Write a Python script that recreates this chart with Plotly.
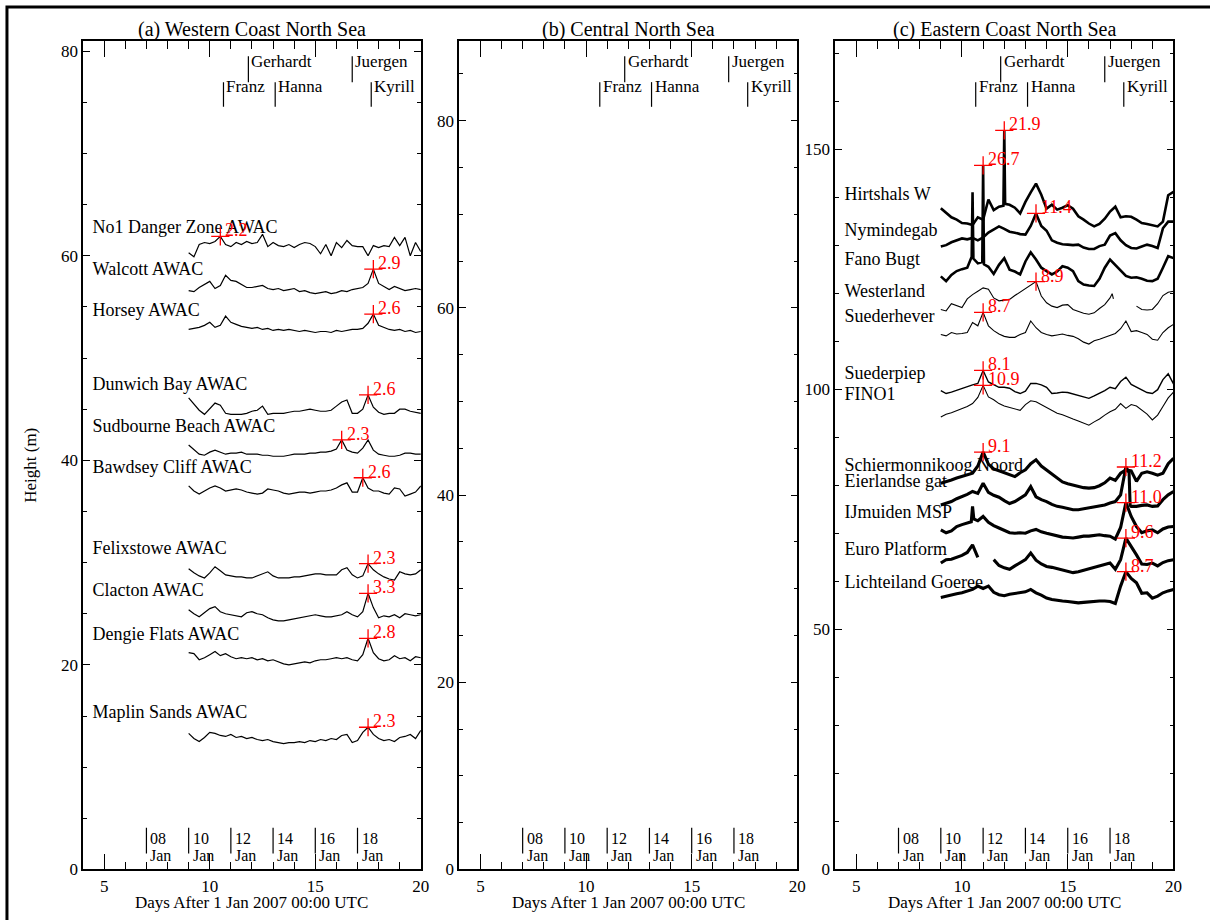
import plotly.graph_objects as go

SERIF = "Liberation Serif"

# Sample times (days after 1 Jan 2007 00:00 UTC)
days = [round(9.0 + 0.25 * i, 2) for i in range(45)]

# ---------------- (a) Western Coast North Sea ----------------
west_names = ["No1 Danger Zone AWAC", "Walcott AWAC", "Horsey AWAC", "Dunwich Bay AWAC",
              "Sudbourne Beach AWAC", "Bawdsey Cliff AWAC", "Felixstowe AWAC",
              "Clacton AWAC", "Dengie Flats AWAC", "Maplin Sands AWAC"]

no1 = [60.3, 59.9, 61.1, 61.3, 61.2, 61.4, 61.9, 61.1, 60.9, 61.3, 61.1, 61.4, 61.2, 61.3, 62.1,
       60.9, 61.3, 61.0, 60.9, 61.1, 60.8, 61.1, 61.3, 61.2, 60.9, 60.2, 61.1, 60.0, 61.3, 60.8,
       61.5, 61.0, 60.9, 60.9, 60.0, 61.0, 60.8, 61.0, 60.9, 61.8, 61.0, 61.8, 60.0, 61.3, 60.4]
walcott = [56.6, 56.5, 56.9, 57.2, 57.5, 56.8, 57.1, 58.1, 57.6, 57.5, 57.2, 56.9, 56.9, 57.0, 57.1,
           56.8, 56.7, 56.8, 56.6, 56.7, 56.8, 56.5, 56.6, 56.4, 56.3, 56.4, 56.5, 56.3, 56.4, 56.6,
           56.5, 56.7, 56.8, 56.9, 57.3, 58.7, 57.3, 57.0, 56.7, 57.0, 56.8, 56.6, 56.7, 56.8, 56.7]
horsey = [52.8, 52.9, 53.0, 53.2, 53.5, 53.0, 53.2, 54.1, 53.5, 53.3, 53.1, 53.0, 52.9, 53.0, 52.8,
          52.9, 52.7, 52.8, 52.7, 52.8, 52.7, 52.6, 52.7, 52.6, 52.5, 52.6, 52.6, 52.5, 52.7, 52.6,
          52.7, 52.8, 52.8, 52.9, 53.4, 54.3, 53.2, 53.0, 52.8, 52.7, 52.8, 52.6, 52.7, 52.5, 52.6]
dunwich = [46.1, 45.5, 44.9, 44.5, 45.1, 45.6, 45.4, 44.6, 44.5, 44.5, 44.5, 44.6, 44.8, 44.9, 45.3,
           44.5, 44.6, 44.6, 44.6, 44.7, 44.8, 44.8, 44.9, 45.0, 44.9, 44.8, 44.8, 44.9, 45.3, 45.7,
           45.9, 44.6, 44.6, 45.0, 46.4, 45.2, 44.7, 44.5, 44.6, 44.6, 45.0, 45.0, 44.8, 44.7, 44.6]
sudbourne = [41.5, 41.0, 40.6, 40.5, 40.8, 41.0, 40.8, 40.6, 40.7, 40.7, 40.8, 40.6, 40.6, 40.6, 40.5,
             40.5, 40.4, 40.4, 40.4, 40.5, 40.6, 40.6, 40.6, 40.7, 40.7, 40.8, 40.8, 40.9, 41.1, 42.0,
             41.0, 40.8, 40.7, 41.2, 42.0, 41.0, 40.6, 40.5, 40.4, 40.4, 40.5, 40.7, 40.7, 40.6, 40.6]
bawdsey = [37.5, 37.0, 36.7, 37.0, 37.3, 37.5, 37.3, 37.0, 37.1, 37.2, 37.1, 36.9, 36.8, 36.7, 36.8,
           37.2, 37.1, 37.0, 36.8, 36.7, 36.8, 36.9, 36.9, 36.8, 36.9, 37.0, 37.0, 37.1, 37.3, 37.6,
           37.8, 36.9, 36.9, 38.3, 37.3, 37.0, 37.0, 36.8, 36.7, 37.3, 37.2, 36.5, 36.7, 36.9, 37.5]
felixstowe = [29.4, 29.0, 28.7, 28.5, 29.0, 29.6, 29.2, 28.8, 28.7, 28.6, 28.6, 28.5, 28.5, 28.7, 28.9,
              29.1, 28.7, 28.5, 28.5, 28.5, 28.6, 28.6, 28.7, 28.8, 28.9, 28.9, 28.8, 28.8, 28.8, 29.3,
              29.5, 28.8, 28.5, 28.7, 29.9, 29.3, 28.9, 28.6, 28.4, 28.3, 29.1, 28.9, 28.8, 28.9, 29.3]
clacton = [25.4, 25.0, 24.7, 25.1, 25.5, 25.7, 25.2, 25.0, 24.9, 24.8, 24.7, 25.1, 25.2, 25.0, 24.9,
           24.6, 24.4, 24.3, 24.3, 24.4, 24.5, 24.6, 24.7, 24.8, 24.9, 24.8, 24.7, 24.7, 24.8, 24.9,
           25.2, 24.9, 24.7, 25.2, 27.0, 25.6, 24.6, 24.8, 24.7, 24.9, 24.6, 25.0, 24.9, 24.8, 24.9]
dengie = [21.2, 21.1, 20.5, 20.7, 21.0, 21.3, 20.9, 21.1, 20.8, 20.6, 20.7, 20.6, 20.7, 20.5, 20.6,
          20.4, 20.5, 20.3, 20.1, 20.0, 20.1, 20.2, 20.3, 20.2, 20.4, 20.5, 20.5, 20.6, 20.7, 20.6,
          20.7, 20.5, 20.4, 21.0, 22.6, 21.2, 20.6, 20.4, 20.5, 20.9, 20.6, 20.7, 20.4, 20.8, 20.7]
maplin = [13.3, 12.8, 12.5, 12.9, 13.4, 13.3, 13.1, 13.0, 13.2, 12.9, 13.0, 12.8, 12.9, 12.7, 12.6,
          12.7, 12.5, 12.4, 12.3, 12.4, 12.4, 12.5, 12.4, 12.6, 12.5, 12.7, 12.6, 12.8, 12.7, 13.1,
          13.2, 12.4, 12.6, 13.4, 13.9, 13.2, 12.8, 12.6, 12.7, 12.5, 12.9, 13.0, 13.2, 12.8, 13.6]

west_series = [no1, walcott, horsey, dunwich, sudbourne, bawdsey, felixstowe, clacton, dengie, maplin]
west_peak_day = [10.5, 17.75, 17.75, 17.5, 16.25, 17.25, 17.5, 17.5, 17.5, 17.5]
west_peak_text = ["2.2", "2.9", "2.6", "2.6", "2.3", "2.6", "2.3", "3.3", "2.8", "2.3"]
west_label_y = [62.7, 58.6, 54.6, 47.3, 43.2, 39.2, 31.3, 27.2, 22.9, 15.2]

# ---------------- (c) Eastern Coast North Sea ----------------
east_names = ["Hirtshals W", "Nymindegab", "Fano Bugt", "Westerland", "Suederhever",
              "Suederpiep", "FINO1", "Schiermonnikoog Noord", "Eierlandse gat",
              "IJmuiden MSP", "Euro Platform", "Lichteiland Goeree"]

hirtshals = [137.7, 136.8, 135.8, 135.3, 134.6, 134.5, 134.2, 135.8, 135.3, 139.5, 137.3, 138.0, 153.9,
             138.4, 137.8, 136.6, 139.0, 141.0, 142.8, 140.5, 137.6, 138.4, 137.4, 137.8, 138.3, 137.6,
             136.0, 135.3, 134.5, 133.9, 134.4, 135.5, 137.0, 138.0, 135.8, 136.0, 135.9, 135.3, 134.6,
             134.4, 134.2, 133.9, 134.9, 140.4, 141.1]
nymindegab = [129.7, 130.0, 130.6, 131.0, 131.4, 131.2, 131.5, 131.0, 131.6, 132.6, 133.2, 133.9, 133.4,
              132.8, 132.6, 132.3, 132.2, 134.0, 136.6, 134.0, 133.0, 131.0, 130.5, 130.2, 130.1, 130.0,
              130.1, 129.5, 129.2, 129.2, 129.8, 130.1, 132.0, 132.5, 131.0, 130.0, 129.4, 129.3, 129.7,
              130.1, 129.8, 129.4, 133.5, 134.9, 134.9]
fano = [123.5, 122.5, 123.8, 124.6, 125.0, 125.3, 141.0, 126.2, 146.6, 125.5, 124.0, 125.9, 127.3,
        124.9, 124.5, 123.9, 126.6, 128.5, 127.0, 125.3, 124.6, 123.9, 124.5, 125.6, 125.3, 124.6,
        122.5, 121.8, 121.6, 121.5, 123.0, 125.3, 127.0, 125.8, 124.6, 123.6, 123.2, 123.3, 123.0,
        122.6, 122.5, 123.0, 125.3, 127.7, 127.3]
westerland = [116.6, 116.3, 117.8, 117.4, 117.0, 118.8, 119.7, 120.4, 121.1, 120.8, 119.0, 118.4, 118.5,
              118.7, 119.5, 120.2, 121.0, 121.6, 122.4, 119.4, 118.0, 117.3, 117.0, 117.5, 117.6, 116.6,
              116.2, 115.8, 115.6, 115.9, 116.8, 117.6, 119.0, None, None, None, None, 117.3, 116.6,
              116.5, 116.6, 117.8, 119.5, 120.2, 120.4]
suederhever = [111.4, 111.1, 111.8, 111.5, 111.6, 111.8, 113.9, 113.2, 116.0, 113.2, 112.2, 111.5, 111.0,
               110.8, 110.8, 111.4, 111.8, 114.2, 112.8, 111.8, 111.4, 111.1, 111.3, 111.5, 111.2, 111.0,
               110.5, 109.8, 109.4, 110.1, 110.4, 110.8, 111.1, 111.6, 112.6, 114.2, 112.0, 112.2, 111.8,
               111.4, 110.4, 110.2, 111.8, 112.8, 113.5]
suederpiep = [99.7, 99.1, 99.4, 99.8, 100.1, 100.6, 100.9, 101.2, 103.9, 101.5, 100.9, 100.4, 100.4,
              100.2, 99.5, 99.1, 99.6, 101.2, 101.2, 100.9, 100.4, 99.1, 99.2, 99.4, 99.3, 99.0,
              98.7, 98.4, 98.1, 98.6, 99.1, 99.7, 100.4, 100.1, 101.6, 102.5, 101.0, 100.4, 99.8,
              99.3, 99.1, 99.9, 102.0, 103.2, 101.1]
fino1 = [94.2, 94.8, 95.1, 95.5, 95.9, 96.4, 97.0, 98.3, 100.8, 98.4, 97.8, 97.0, 96.5, 96.2, 95.8,
         95.6, 96.8, 97.6, 97.4, 96.8, 96.2, 95.6, 95.0, 94.7, 94.2, 93.8, 93.4, 93.0, 92.5, 93.2,
         93.8, 94.6, 95.3, 95.8, 97.0, 96.0, 96.8, 96.5, 95.6, 94.8, 93.6, 94.6, 96.4, 98.2, 99.4]
schier = [80.4, 80.7, 81.1, 81.5, 81.8, 82.2, 82.5, 84.0, 86.9, 84.4, 83.4, 83.0, 82.6, 82.1, 81.8,
          82.6, 83.2, 84.5, 85.3, 84.0, 83.2, 82.3, 81.5, 80.7, 80.3, 80.0, 79.7, 79.5, 79.4, 79.5,
          79.9, 80.5, 81.5, 81.0, 82.5, 83.2, 83.0, 80.8, 82.5, 82.8, 82.5, 82.1, 82.5, 84.5, 85.6]
eierlandse = [75.9, 76.3, 76.6, 77.2, 77.6, 78.1, 78.7, 78.3, 80.4, 78.5, 77.9, 77.5, 76.8, 76.2, 76.6,
              77.3, 78.0, 79.7, 77.6, 77.0, 76.6, 76.0, 75.6, 75.4, 75.1, 74.9, 74.9, 75.1, 75.2, 75.4,
              75.6, 75.9, 76.3, 76.6, 78.0, 83.8, 75.6, 75.6, 75.8, 75.9, 75.6, 75.7, 77.0, 78.0, 78.7]
ijmuiden = [70.7, 70.1, 70.5, 71.4, 71.8, 72.1, 75.6, 72.6, 73.5, 72.3, 71.6, 71.1, 70.6, 70.1, 70.0,
            70.1, 70.0, 70.5, 70.8, 70.3, 70.0, 69.7, 69.4, 69.2, 69.1, 69.0, 69.2, 69.4, 69.4, 69.6,
            69.7, 69.5, 69.4, 68.8, 71.2, 76.4, 73.5, 71.4, 70.1, 70.5, 70.7, 70.1, 70.9, 71.3, 71.4]
euro = [63.8, 64.5, 64.6, 65.0, 65.4, 66.0, 67.6, 65.0, None, None, 64.5, 63.3, 62.8, 62.5, 63.2,
        63.9, 64.5, 65.9, 64.4, 63.6, 63.1, 62.9, 62.6, 62.3, 62.0, 61.8, 62.0, 62.3, 62.5, 62.8,
        63.1, 63.5, 63.8, 62.5, 64.5, 69.0, 67.3, 65.5, 63.6, 63.5, 63.8, 63.2, 63.9, 64.3, 64.5]
lichteiland = [56.6, 56.9, 57.1, 57.4, 57.6, 58.0, 58.3, 59.0, 58.5, 59.0, 57.7, 57.2, 57.0, 57.3, 57.5,
               57.6, 57.8, 58.3, 57.6, 57.1, 56.5, 56.2, 56.0, 55.9, 55.8, 55.6, 55.5, 55.6, 55.7, 55.9,
               55.9, 55.9, 55.8, 55.4, 59.0, 62.0, 60.6, 59.7, 57.5, 57.6, 56.5, 56.9, 57.6, 58.0, 58.3]

east_series = [hirtshals, nymindegab, fano, westerland, suederhever, suederpiep, fino1,
               schier, eierlandse, ijmuiden, euro, lichteiland]

# Additional short-lived samples around the spikes (time, value)
east_extra_days = {0: [11.96, 12.04], 2: [10.46, 10.54, 10.96, 11.04], 3: [17.1, 17.16],
                   8: [17.9, 17.95], 9: [10.44, 10.56]}
east_extra_vals = {0: [138.2, 138.6], 2: [127.6, 127.2, 126.5, 126.0], 3: [119.9, 118.8],
                   8: [82.6, 75.8], 9: [72.4, 73.0]}

east_peak_day = [12.0, 13.5, 11.0, 13.5, 11.0, 11.0, 11.0, 11.0, 17.75, 17.75, 17.75, 17.75]
east_peak_text = ["21.9", "11.4", "26.7", "8.9", "8.7", "8.1", "10.9", "9.1", "11.2", "11.0", "9.6", "8.7"]
east_label_y = [140.3, 132.9, 126.7, 120.1, 114.9, 103.0, 98.7, 83.8, 80.5, 74.1, 66.5, 59.5]
east_width = [2.6, 2.6, 2.6, 1.1, 1.1, 1.4, 1.1, 3.1, 3.1, 3.1, 3.1, 3.1]

# Storms and calendar markers
storm_names = ["Franz", "Gerhardt", "Hanna", "Juergen", "Kyrill"]
storm_day = [10.65, 11.83, 13.1, 16.75, 17.65]
storm_upper = [False, True, False, True, False]

date_day = [7, 9, 11, 13, 15, 17]
date_text = ["08", "10", "12", "14", "16", "18"]

panel_titles = ["(a) Western Coast North Sea", "(b) Central North Sea", "(c) Eastern Coast North Sea"]
y_ranges = [[0, 81.0], [0, 88.5], [0, 172.5]]
y_dticks = [20, 20, 50]
y_minor = [5, 5, 10]

XDOM = [[0.0692, 0.3504], [0.3824, 0.6639], [0.6953, 0.9771]]
YDOM = [0.0446, 0.9549]


def with_extra(vals, xs_extra, vs_extra):
    pts = list(zip(days, vals)) + list(zip(xs_extra, vs_extra))
    pts.sort(key=lambda p: p[0])
    return [p[0] for p in pts], [p[1] for p in pts]


fig = go.Figure()

# Station labels (under the traces)
fig.add_trace(go.Scatter(x=[4.45] * len(west_names), y=west_label_y, text=west_names, mode="text",
                         textposition="middle right", textfont=dict(family=SERIF, size=18, color="black"),
                         xaxis="x", yaxis="y", hoverinfo="skip"))
fig.add_trace(go.Scatter(x=[4.45] * len(east_names), y=east_label_y, text=east_names, mode="text",
                         textposition="middle right", textfont=dict(family=SERIF, size=18, color="black"),
                         xaxis="x3", yaxis="y3", hoverinfo="skip"))

# Western series
for vals in west_series:
    fig.add_trace(go.Scatter(x=days, y=vals, mode="lines", line=dict(color="black", width=1.2),
                             xaxis="x", yaxis="y", hoverinfo="skip"))

# Eastern series
for i, vals in enumerate(east_series):
    xs, ys = with_extra(vals, east_extra_days.get(i, []), east_extra_vals.get(i, []))
    fig.add_trace(go.Scatter(x=xs, y=ys, mode="lines", line=dict(color="black", width=east_width[i]),
                             xaxis="x3", yaxis="y3", hoverinfo="skip"))

annotations = []

# Peak markers
for series, pdays, ptext, xa, ya in [(west_series, west_peak_day, west_peak_text, "x", "y"),
                                     (east_series, east_peak_day, east_peak_text, "x3", "y3")]:
    px = []
    py = []
    for vals, d, t in zip(series, pdays, ptext):
        v = vals[days.index(d)]
        px.append(d)
        py.append(v)
        annotations.append(dict(x=d, y=v, xref=xa, yref=ya, text=t, showarrow=False,
                                xanchor="left", yanchor="middle", xshift=3, yshift=6,
                                font=dict(family=SERIF, size=18, color="red")))
    fig.add_trace(go.Scatter(x=px, y=py, mode="markers", xaxis=xa, yaxis=ya, hoverinfo="skip",
                             marker=dict(symbol="cross-thin", size=13, line=dict(color="red", width=1.3))))

shapes = []
axes = [("x", "y"), ("x2", "y2"), ("x3", "y3")]
layout_axes = {}
for k, (xa, ya) in enumerate(axes):
    xname = "xaxis" if k == 0 else f"xaxis{k + 1}"
    yname = "yaxis" if k == 0 else f"yaxis{k + 1}"
    layout_axes[xname] = dict(domain=XDOM[k], anchor=ya, range=[4, 20], tick0=0, dtick=5,
                              ticks="inside", ticklen=16, tickwidth=1.2, tickcolor="black",
                              minor=dict(dtick=1, ticks="inside", ticklen=8, tickwidth=1.2, tickcolor="black"),
                              showline=True, linecolor="black", linewidth=1.5, mirror="ticks",
                              showgrid=False, zeroline=False,
                              tickfont=dict(family=SERIF, size=17, color="black"))
    layout_axes[yname] = dict(domain=YDOM, anchor=xa, range=y_ranges[k], tick0=0, dtick=y_dticks[k],
                              ticks="inside", ticklen=7, tickwidth=1.2, tickcolor="black",
                              minor=dict(dtick=y_minor[k], ticks="inside", ticklen=4, tickwidth=1.2,
                                         tickcolor="black"),
                              showline=True, linecolor="black", linewidth=1.5, mirror="ticks",
                              showgrid=False, zeroline=False,
                              tickfont=dict(family=SERIF, size=17, color="black"))
    ydom = f"{ya} domain"
    # storm markers
    for name, d, up in zip(storm_names, storm_day, storm_upper):
        y0, y1, yt = (0.9504, 0.9815, 0.9755) if up else (0.9206, 0.9504, 0.9457)
        shapes.append(dict(type="line", xref=xa, yref=ydom, x0=d, x1=d, y0=y0, y1=y1,
                           line=dict(color="black", width=1.2)))
        annotations.append(dict(x=d, y=yt, xref=xa, yref=ydom, text=name, showarrow=False,
                                xanchor="left", yanchor="middle", xshift=1,
                                font=dict(family=SERIF, size=17, color="black")))
    # calendar markers
    for d, t in zip(date_day, date_text):
        shapes.append(dict(type="line", xref=xa, yref=ydom, x0=d, x1=d, y0=0.0191, y1=0.0502,
                           line=dict(color="black", width=1.2)))
        annotations.append(dict(x=d, y=0.037, xref=xa, yref=ydom, text=t, showarrow=False,
                                xanchor="left", yanchor="middle", xshift=2,
                                font=dict(family=SERIF, size=16, color="black")))
        annotations.append(dict(x=d, y=0.0167, xref=xa, yref=ydom, text="Jan", showarrow=False,
                                xanchor="left", yanchor="middle", xshift=2,
                                font=dict(family=SERIF, size=16, color="black")))
    # panel title and x-axis title
    xc = (XDOM[k][0] + XDOM[k][1]) / 2
    annotations.append(dict(x=xc, y=0.9674, xref="paper", yref="paper", text=panel_titles[k],
                            showarrow=False, xanchor="center", yanchor="middle",
                            font=dict(family=SERIF, size=20, color="black")))
    annotations.append(dict(x=xc, y=0.0087, xref="paper", yref="paper",
                            text="Days After 1 Jan 2007 00:00 UTC", showarrow=False,
                            xanchor="center", yanchor="middle",
                            font=dict(family=SERIF, size=17, color="black")))

annotations.append(dict(x=0.0248, y=0.489, xref="paper", yref="paper", text="Height (m)",
                        showarrow=False, textangle=-90, xanchor="center", yanchor="middle",
                        font=dict(family=SERIF, size=17, color="black")))

# outer frame
shapes.append(dict(type="rect", xref="paper", yref="paper", x0=0.0058, x1=1.02, y0=-0.02, y1=0.9924,
                   line=dict(color="black", width=3), fillcolor="rgba(0,0,0,0)"))

fig.update_layout(width=1210, height=920, margin=dict(l=0, r=0, t=0, b=0),
                  paper_bgcolor="white", plot_bgcolor="white", showlegend=False,
                  font=dict(family=SERIF, color="black"),
                  shapes=shapes, annotations=annotations, **layout_axes)

fig.write_html("out.html")
